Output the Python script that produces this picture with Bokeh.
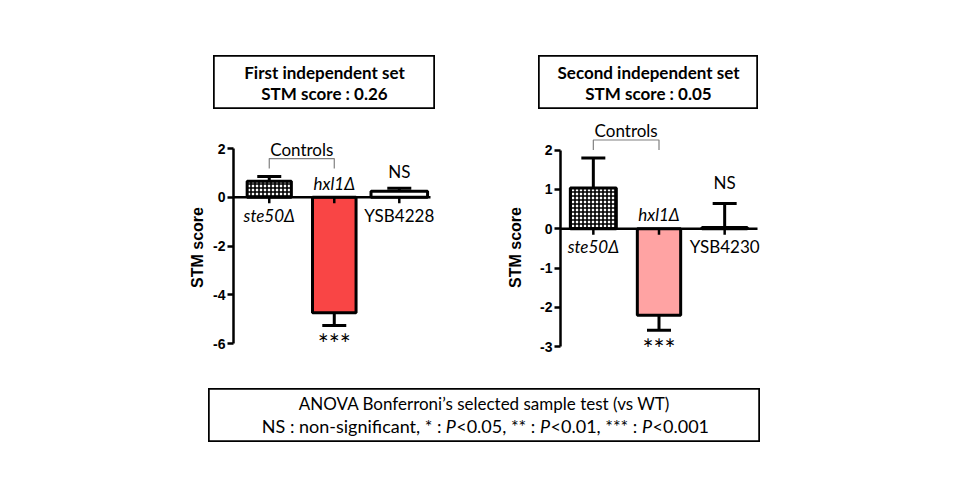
import numpy as np
from bokeh.plotting import figure
from bokeh.models import Range1d, FixedTicker, ColumnDataSource, Spacer
from bokeh.layouts import column, row
from bokeh.core.properties import value, field
from bokeh.embed import file_html
from bokeh.resources import INLINE

TEXT_FONT = "Lato"
AXIS_FONT = "Liberation Sans"

# ---------------- data ----------------
strains1 = ["ste50Δ", "hxl1Δ", "YSB4228"]
stm1 = [0.66, -4.74, 0.25]
sem1 = [0.19, 0.52, 0.12]
sig1 = ["", "***", "NS"]
ticks1 = [-6, -4, -2, 0, 2]
title1 = ["First independent set", "STM score : 0.26"]

strains2 = ["ste50Δ", "hxl1Δ", "YSB4230"]
stm2 = [1.04, -2.20, 0.03]
sem2 = [0.76, 0.38, 0.61]
sig2 = ["", "***", "NS"]
ticks2 = [-3, -2, -1, 0, 1, 2]
title2 = ["Second independent set", "STM score : 0.05"]

italic_label = [True, True, False]
control_pair = [0, 1]
control_text = "Controls"
y_label = "STM score"

foot_line1 = "ANOVA Bonferroni’s selected sample test (vs WT)"
foot_parts = ["NS : non-significant, * :", "P", "<0.05, ** :", "P", "<0.01, *** :", "P", "<0.001"]
foot_styles = ["normal", "italic", "normal", "italic", "normal", "italic", "normal"]

# ---------------- layout constants ----------------
FS = "17px"
MARGIN = 8


def make_chart(strains, stm, sem, sig, ticks, hl_color, W, H, bl, frame_w, x_lo, x_hi,
               ppu, y_top, bar_widths, label_standoff, ns_gap, extra_px=16):
    ppx = frame_w / (x_hi - x_lo)
    x_end = x_hi + extra_px / ppx
    br = W - bl - frame_w - extra_px
    p = figure(width=W, height=H, x_range=Range1d(x_lo, x_end),
               y_range=Range1d(y_top - H / ppu, y_top),
               x_axis_location=None, toolbar_location=None, output_backend="svg",
               min_border_left=bl, min_border_right=br, min_border_top=0, min_border_bottom=0,
               outline_line_color=None)
    p.grid.visible = False
    m = np.array(stm, dtype=float)
    e = np.array(sem, dtype=float)
    x = np.arange(len(m))
    sgn = np.where(m >= 0, 1.0, -1.0)
    ends = m + sgn * e

    # error bars (behind bars)
    p.segment(x0=x, y0=m, x1=x, y1=ends, line_color="black", line_width=3)
    p.scatter(x=x, y=ends, marker="dash", size=24, line_color="black", line_width=3)

    # bars
    p.vbar(x=x[:1], top=m[:1], bottom=0, width=bar_widths[0], fill_color="white",
           hatch_pattern="cross", hatch_color="black", hatch_scale=4, hatch_weight=1.6,
           line_color="black", line_width=3)
    p.vbar(x=x[1:2], top=m[1:2], bottom=0, width=bar_widths[1], fill_color=hl_color,
           line_color="black", line_width=3)
    p.vbar(x=x[2:3], top=m[2:3], bottom=0, width=bar_widths[2], fill_color="white",
           line_color="black", line_width=3)

    # zero line + ticks at bars
    p.segment(x0=[x_lo], y0=[0], x1=[x_hi], y1=[0], line_color="black", line_width=2.5)
    p.segment(x0=x, y0=np.zeros(len(x)), x1=x, y1=np.zeros(len(x)) - 6 / ppu,
              line_color="black", line_width=2.5)

    # y axis
    ax = p.yaxis[0]
    ax.ticker = FixedTicker(ticks=ticks)
    ax.major_label_overrides = {t: str(t) for t in ticks}
    ax.bounds = (min(ticks), max(ticks))
    ax.axis_line_width = 2.5
    ax.axis_line_color = "black"
    ax.major_tick_line_width = 2.5
    ax.major_tick_line_color = "black"
    ax.major_tick_out = 6
    ax.major_tick_in = 0
    ax.minor_tick_line_color = None
    ax.major_label_text_font = AXIS_FONT
    ax.major_label_text_font_style = "bold"
    ax.major_label_text_font_size = "14px"
    ax.major_label_text_color = "black"
    ax.major_label_standoff = 2
    ax.axis_label = y_label
    ax.axis_label_text_font = AXIS_FONT
    ax.axis_label_text_font_style = "bold"
    ax.axis_label_text_font_size = "16px"
    ax.axis_label_text_color = "black"
    ax.axis_label_standoff = label_standoff

    # strain labels
    src = ColumnDataSource(dict(
        x=x, y=np.zeros(len(x)), text=strains,
        style=["italic" if it else "normal" for it in italic_label],
        yoff=[18 if v >= 0 else -14 for v in m]))
    p.text(x="x", y="y", text="text", source=src, y_offset="yoff",
           text_font=value(TEXT_FONT), text_font_size=FS, text_font_style=field("style"),
           text_align="center", text_baseline="middle", text_color="black")

    # significance marks
    ssrc = ColumnDataSource(dict(
        x=x, y=ends, text=sig,
        size=["26px" if s.startswith("*") else FS for s in sig],
        yoff=[-ns_gap if v >= 0 else 19 for v in m]))
    p.text(x="x", y="y", text="text", source=ssrc, y_offset="yoff",
           text_font=value(TEXT_FONT), text_font_size=field("size"),
           text_align="center", text_baseline="middle", text_color="black")

    # controls bracket
    a, b = control_pair
    base = ends[a]
    lo = base + 8 / ppu
    hi = base + 18 / ppu
    p.line(x=[x[a], x[a], x[b], x[b]], y=[lo, hi, hi, lo], line_color="#808080", line_width=1.2)
    p.text(x=[(x[a] + x[b]) / 2], y=[base], text=[control_text], y_offset=-27,
           text_font=value(TEXT_FONT), text_font_size=FS,
           text_align="center", text_baseline="middle", text_color="black")
    return p


def make_box(lines, W, H, ys, bold):
    b = figure(width=W, height=H, x_range=Range1d(0, W), y_range=Range1d(0, H),
               x_axis_location=None, y_axis_location=None, toolbar_location=None,
               output_backend="svg", min_border=0,
               outline_line_color="black", outline_line_width=2.5)
    b.grid.visible = False
    b.text(x=[W / 2] * len(lines), y=ys, text=lines,
           text_font=value(TEXT_FONT), text_font_size=FS,
           text_font_style="bold" if bold else "normal",
           text_align="center", text_baseline="middle", text_color="black")
    return b


boxA = make_box(title1, 222, 54, [37.3, 15.7], True)
boxB = make_box(title2, 220, 54, [37.3, 15.7], True)

figA = make_chart(strains1, stm1, sem1, sig1, ticks1, "#F94545", 484, 276, 233, 197,
                  -0.55, 2.48, 24.375, 3.6, [0.68, 0.67, 0.87], 4, 17)
figB = make_chart(strains2, stm2, sem2, sig2, ticks2, "#FFA3A3", 468, 276, 76, 197,
                  -0.5, 2.5, 39.33, 3.033, [0.70, 0.66, 0.69], 13, 21)

# footnote box
boxC = make_box([foot_line1], 552, 54, [38.7], False)
foot_x = [233.0, 237.2, 247.7, 331.6, 342.1, 433.6, 444.1]
foot_align = ["right", "left", "left", "left", "left", "left", "left"]
boxC.text(x=foot_x, y=[17.0] * len(foot_parts), text=foot_parts,
          text_font=value(TEXT_FONT), text_font_size="18px",
          text_font_style=foot_styles, text_align=foot_align,
          text_baseline="middle", text_color="black")

layout = column(
    Spacer(height=47 + MARGIN, width=10),
    row(Spacer(width=205 + MARGIN, height=54), boxA, Spacer(width=103, height=54), boxB),
    row(figA, figB),
    Spacer(height=3, width=10),
    row(Spacer(width=200 + MARGIN, height=54), boxC),
)

open("out.html", "w").write(file_html(layout, INLINE))
